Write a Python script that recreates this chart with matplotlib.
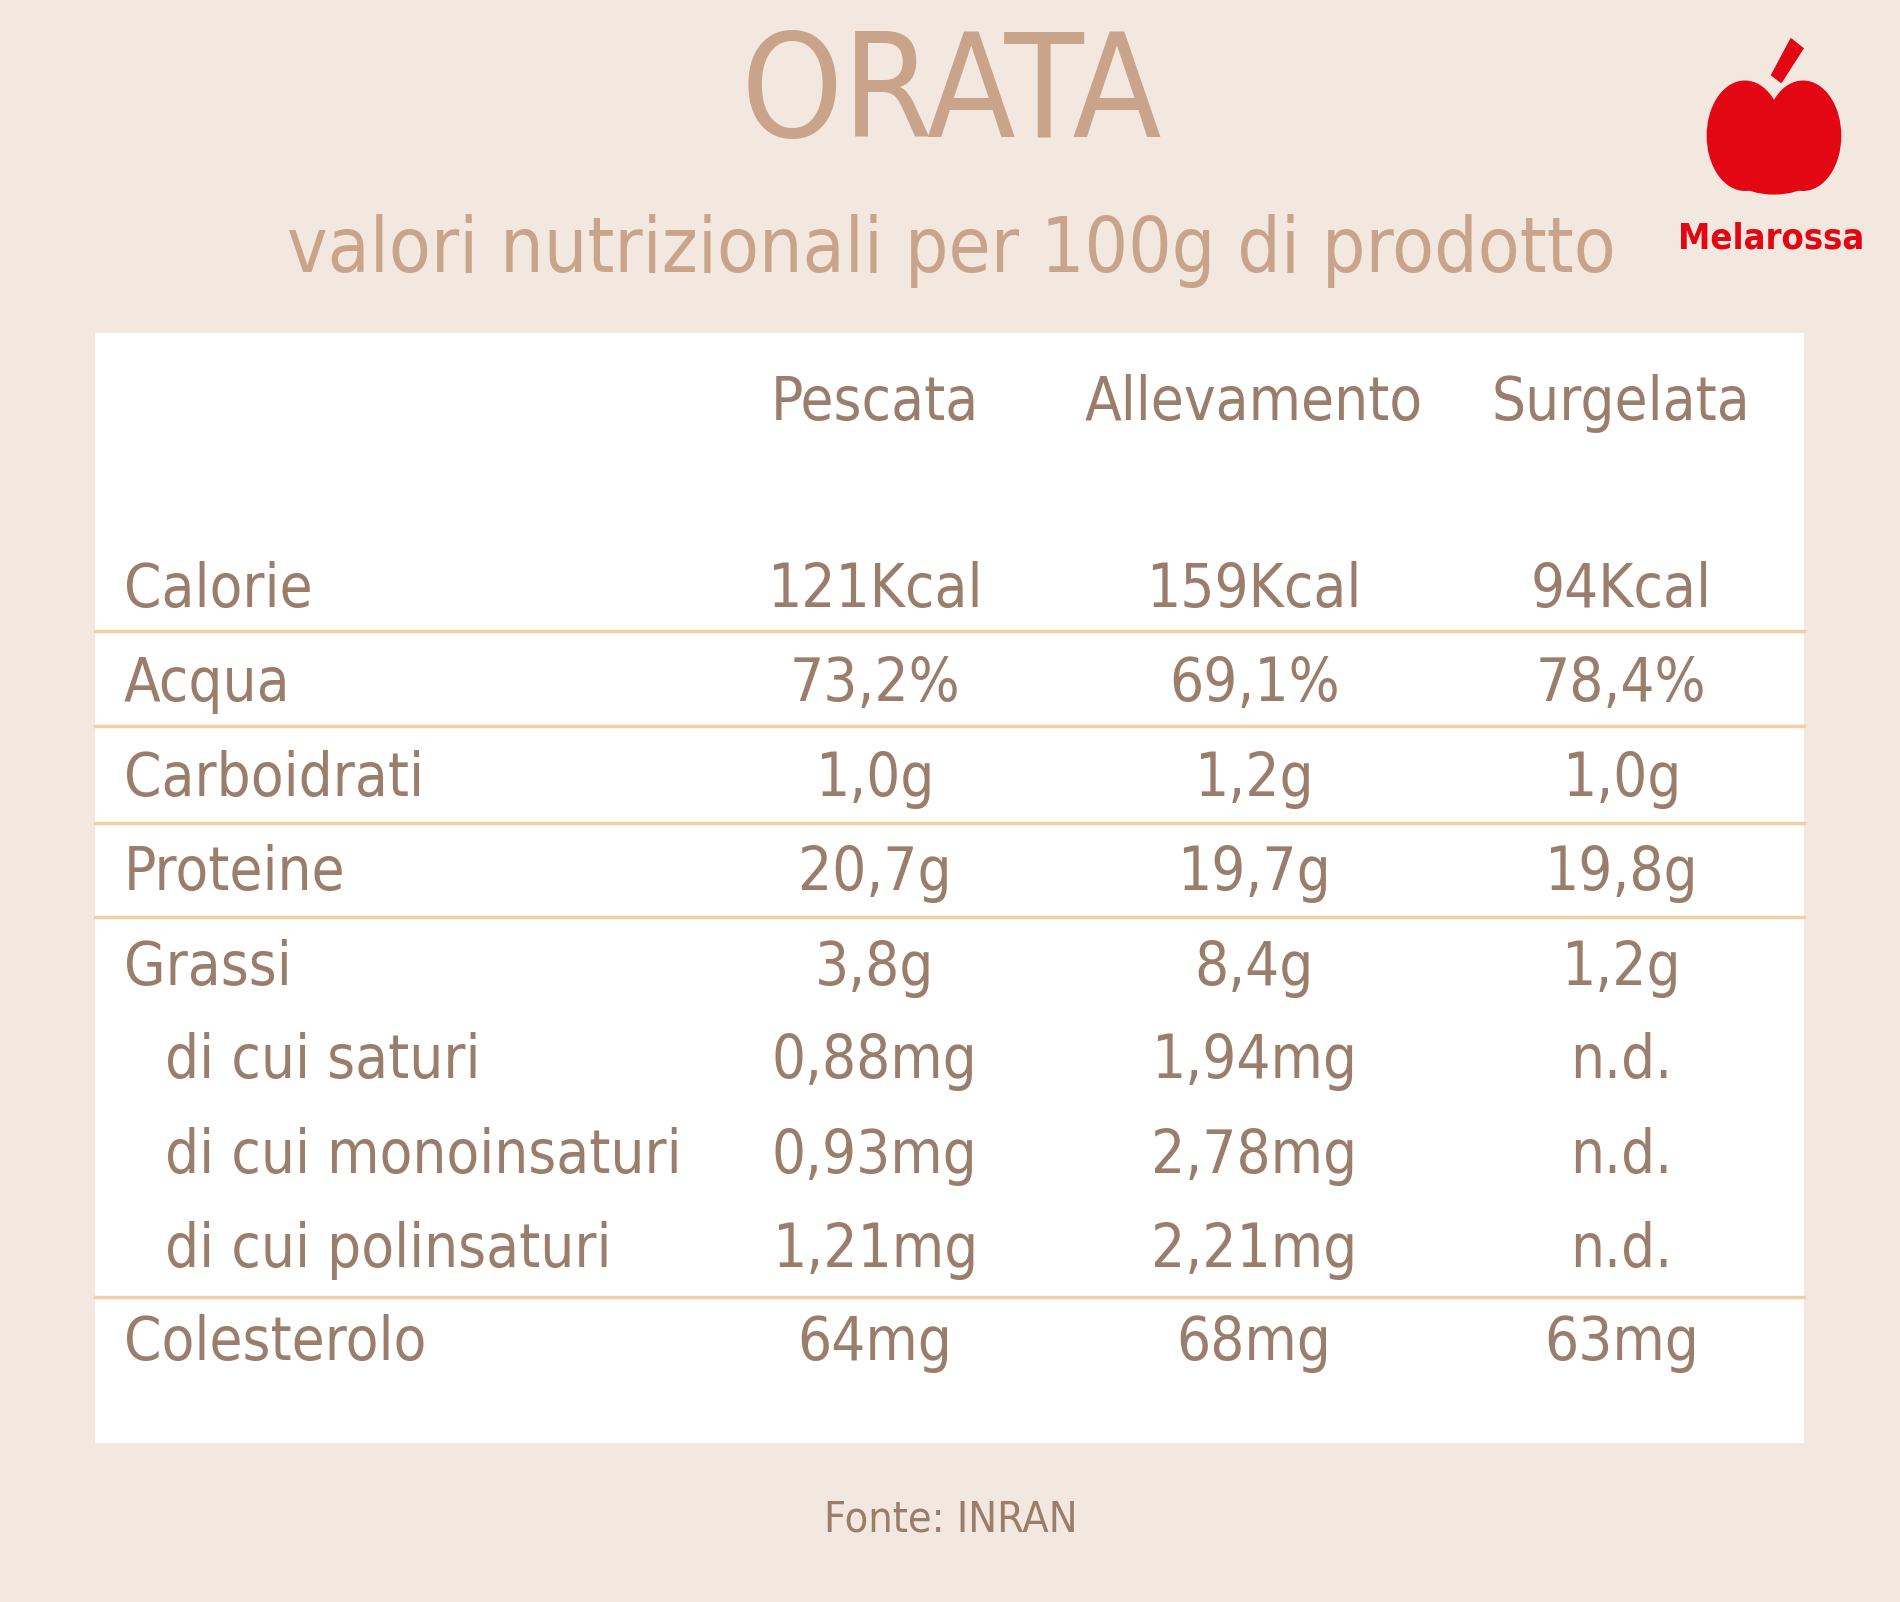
import matplotlib
matplotlib.use("Agg")
import matplotlib.pyplot as plt
from matplotlib.patches import Rectangle, Ellipse, Polygon

title = "ORATA"
subtitle = "valori nutrizionali per 100g di prodotto"
columns = ["Pescata", "Allevamento", "Surgelata"]
rows = ["Calorie", "Acqua", "Carboidrati", "Proteine", "Grassi",
        "di cui saturi", "di cui monoinsaturi", "di cui polinsaturi", "Colesterolo"]
indented = [False, False, False, False, False, True, True, True, False]
pescata = ["121Kcal", "73,2%", "1,0g", "20,7g", "3,8g", "0,88mg", "0,93mg", "1,21mg", "64mg"]
allevamento = ["159Kcal", "69,1%", "1,2g", "19,7g", "8,4g", "1,94mg", "2,78mg", "2,21mg", "68mg"]
surgelata = ["94Kcal", "78,4%", "1,0g", "19,8g", "1,2g", "n.d.", "n.d.", "n.d.", "63mg"]
source = "Fonte: INRAN"

W, H = 1568, 1322
BG = "#F2E8E0"; TITLE = "#C9A48A"; TXT = "#9A7D6A"; LINE = "#F3CFA8"; RED = "#E30613"
FONT = ["DejaVu Sans"]
ST = "condensed"

fig = plt.figure(figsize=(19, 16.02), dpi=100, facecolor=BG)
ax = fig.add_axes([0, 0, 1, 1])
ax.set_xlim(0, W); ax.set_ylim(H, 0); ax.axis("off")

ax.text(785, 80, title, ha="center", va="center", fontsize=104, color=TITLE, family=FONT, fontstretch=ST)
ax.text(785, 207, subtitle, ha="center", va="center", fontsize=55, color=TITLE, family=FONT, fontstretch=ST)
ax.add_patch(Rectangle((78, 275), 1411, 916, facecolor="white", edgecolor="none"))

colx = [722, 1035, 1338]
FS = 43
for x, c in zip(colx, columns):
    ax.text(x, 333, c, ha="center", va="center", fontsize=FS, color=TXT, family=FONT, fontstretch=ST)

ys = [487, 565, 643, 721, 799, 876, 954, 1032, 1109]
vals = [pescata, allevamento, surgelata]
for i, (r, y) in enumerate(zip(rows, ys)):
    ax.text(136 if indented[i] else 102, y, r, ha="left", va="center", fontsize=FS, color=TXT, family=FONT, fontstretch=ST)
    for x, v in zip(colx, vals):
        ax.text(x, y, v[i], ha="center", va="center", fontsize=FS, color=TXT, family=FONT, fontstretch=ST)
for ly in [521, 599, 679, 757, 1070]:
    ax.plot([78, 1489], [ly, ly], color=LINE, lw=2.5)

ax.text(785, 1254, source, ha="center", va="center", fontsize=31, color=TXT, family=FONT, fontstretch=ST)

# logo
ax.add_patch(Ellipse((1440, 112), 62, 90, color=RED))
ax.add_patch(Ellipse((1488, 112), 62, 90, color=RED))
ax.add_patch(Ellipse((1464, 130), 90, 60, color=RED))
ax.add_patch(Polygon([[1462, 62], [1478, 32], [1488, 40], [1470, 68]], color=RED))
ax.text(1462, 197, "Melarossa", ha="center", va="center", fontsize=26, fontweight="bold", color=RED, family=FONT, fontstretch=ST)

fig.savefig("out.png", dpi=100, facecolor=BG)
